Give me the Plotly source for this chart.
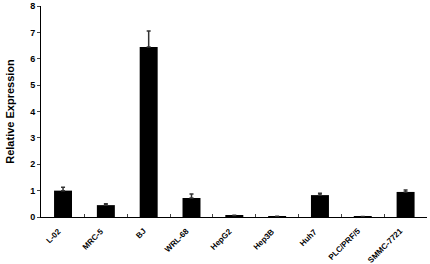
import plotly.graph_objects as go

categories = ["L-02", "MRC-5", "BJ", "WRL-68", "HepG2", "Hep3B", "Huh7", "PLC/PRF/5", "SMMC-7721"]
values = [1.0, 0.45, 6.45, 0.72, 0.06, 0.02, 0.83, 0.01, 0.95]
errors = [0.13, 0.05, 0.6, 0.15, 0.01, 0.01, 0.07, 0.01, 0.07]
y_ticks = [0, 1, 2, 3, 4, 5, 6, 7, 8]

font = "Liberation Sans, Arial, sans-serif"

fig = go.Figure()
fig.add_trace(go.Bar(
    x=categories, y=values,
    marker=dict(color="black", line=dict(width=0)),
    width=0.42,
    error_y=dict(type="data", array=errors, arrayminus=[0] * len(errors), symmetric=False,
                 color="#333333", thickness=1.5, width=2),
))

# rotated category labels, anchored at each category through the x scale
for c in categories:
    fig.add_annotation(
        x=c, xref="x", y=0, yref="paper", text=f"<b>{c}</b>",
        textangle=-45, xanchor="right", yanchor="top", showarrow=False,
        xshift=2, yshift=-7, font=dict(size=8, family=font, color="black"),
    )

fig.update_layout(
    width=430, height=264,
    margin=dict(l=41, r=3, t=6, b=47, autoexpand=False),
    plot_bgcolor="white", paper_bgcolor="white",
    showlegend=False,
    font=dict(family=font, color="black", size=8),
    xaxis=dict(
        type="category",
        showline=True, linecolor="black", linewidth=1, showgrid=False,
        ticks="inside", ticklen=3, tickson="boundaries", automargin=False,
        showticklabels=False,
    ),
    yaxis=dict(
        range=[0, 8], tickvals=y_ticks, ticks="outside", ticklen=3, tickwidth=1,
        showline=True, linecolor="black", linewidth=1, showgrid=False, zeroline=False,
        automargin=False,
        tickfont=dict(size=9, family=font, color="black", weight="bold"),
        title=dict(text="<b>Relative Expression</b>", font=dict(size=11, family=font), standoff=13),
    ),
)
fig.write_html("out.html", post_script="document.body.style.margin='0';",
               config={"displayModeBar": False})
